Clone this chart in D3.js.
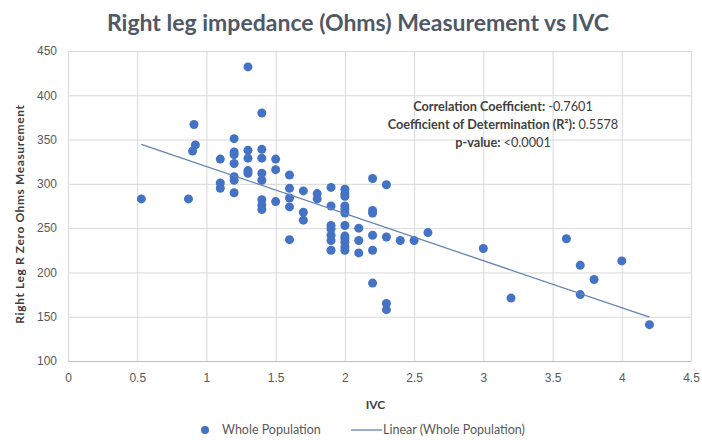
<!DOCTYPE html>
<html>
<head>
<meta charset="utf-8">
<script src="https://cdn.jsdelivr.net/npm/d3@7"></script>
<style>
  body { margin: 0; background: #fff; }
  svg { font-family: Lato, "Open Sans", sans-serif; }
</style>
</head>
<body>
<div id="chart"></div>
<script>
// IVC (x) and Right Leg R Zero Ohms (y)
const ivc = [
  0.53, 0.87, 0.91, 0.92, 0.9,
  1.1, 1.1, 1.1,
  1.2, 1.2, 1.2, 1.2, 1.2, 1.2, 1.2,
  1.3, 1.3, 1.3, 1.3, 1.3,
  1.4, 1.4, 1.4, 1.4, 1.4, 1.4, 1.4, 1.4,
  1.5, 1.5, 1.5,
  1.6, 1.6, 1.6, 1.6, 1.6,
  1.7, 1.7, 1.7,
  1.8, 1.8,
  1.9, 1.9, 1.9, 1.9, 1.9, 1.9, 1.9,
  2.0, 2.0, 2.0, 2.0, 2.0, 2.0, 2.0, 2.0, 2.0, 2.0, 2.0, 2.0,
  2.1, 2.1, 2.1,
  2.2, 2.2, 2.2, 2.2, 2.2, 2.2,
  2.3, 2.3, 2.3, 2.3,
  2.4, 2.5, 2.6, 3.0, 3.2, 3.6, 3.7, 3.7, 3.8, 4.0, 4.2
];
const ohms = [
  283, 283, 367, 344, 337,
  328, 301, 295,
  351, 336, 333, 323, 308, 304, 290,
  432, 338, 329, 315, 312,
  380, 339, 329, 312, 304, 282, 276, 271,
  328, 316, 280,
  310, 295, 284, 274, 237,
  292, 268, 259,
  289, 283,
  296, 275, 253, 249, 242, 236, 225,
  294, 289, 286, 275, 271, 267, 253, 241, 238, 234, 229, 225,
  250, 236, 222,
  306, 270, 267, 242, 225, 188,
  299, 240, 165, 158,
  236, 236, 245, 227, 171, 238, 208, 175, 192, 213, 141
];
const xTicks = [0, 0.5, 1, 1.5, 2, 2.5, 3, 3.5, 4, 4.5];
const yTicks = [100, 150, 200, 250, 300, 350, 400, 450];
const stats = [
  ["Correlation Coefficient: ", "-0.7601"],
  ["Coefficient of Determination (R\u00b2): ", "0.5578"],
  ["p-value: ", "<0.0001"]
];

const W = 702, H = 440;
const margin = { top: 51, right: 11, bottom: 79, left: 68 };
const width = W - margin.left - margin.right;
const height = H - margin.top - margin.bottom;

const svg = d3.select("#chart").append("svg")
  .attr("width", W)
  .attr("height", H);

const g = svg.append("g")
  .attr("transform", `translate(${margin.left},${margin.top})`);

const x = d3.scaleLinear().domain([0, 4.5]).range([0, width]);
const y = d3.scaleLinear().domain([100, 450]).range([height, 0]);

// gridlines
g.append("g")
  .call(d3.axisLeft(y).tickValues(yTicks).tickSize(-width).tickFormat(""))
  .call(a => a.select(".domain").remove())
  .selectAll("line").attr("stroke", "#d9d9d9");
g.append("g")
  .call(d3.axisBottom(x).tickValues(xTicks).tickSize(height).tickFormat(""))
  .call(a => a.select(".domain").remove())
  .selectAll("line").attr("stroke", "#d9d9d9");

// axes
const xAxis = g.append("g")
  .attr("transform", `translate(0,${height})`)
  .call(d3.axisBottom(x).tickValues(xTicks).tickSize(0).tickPadding(12).tickFormat(d3.format("")));
xAxis.select(".domain").attr("stroke", "#bfbfbf");
xAxis.selectAll("text").attr("fill", "#595959").style("font-size", "12px");

const yAxis = g.append("g")
  .call(d3.axisLeft(y).tickValues(yTicks).tickSize(0).tickPadding(11));
yAxis.select(".domain").remove();
yAxis.selectAll("text").attr("fill", "#595959").style("font-size", "12px");

// points
const pts = ivc.map((v, i) => ({ x: v, y: ohms[i] }));
g.selectAll("circle.pt")
  .data(pts)
  .enter()
  .append("circle")
  .attr("class", "pt")
  .attr("cx", d => x(d.x))
  .attr("cy", d => y(d.y))
  .attr("r", 4.5)
  .attr("fill", "#4472c4");

// linear trend (least squares over the points)
const mx = d3.mean(pts, d => d.x), my = d3.mean(pts, d => d.y);
const slope = d3.sum(pts, d => (d.x - mx) * (d.y - my)) / d3.sum(pts, d => (d.x - mx) ** 2);
const icpt = my - slope * mx;
const xr = d3.extent(ivc);
g.append("line")
  .attr("x1", x(xr[0])).attr("y1", y(icpt + slope * xr[0]))
  .attr("x2", x(xr[1])).attr("y2", y(icpt + slope * xr[1]))
  .attr("stroke", "#6283b3")
  .attr("stroke-width", 1.3);

// stats annotation
const ann = svg.append("text")
  .attr("x", 503)
  .attr("y", 111)
  .attr("text-anchor", "middle")
  .attr("fill", "#404040")
  .style("font-size", "12.7px");
stats.forEach((s, i) => {
  const t = ann.append("tspan").attr("x", 503).attr("dy", i === 0 ? 0 : 18);
  t.append("tspan").attr("font-weight", "bold").text(s[0]);
  t.append("tspan").text(s[1]);
});

// title
svg.append("text")
  .attr("x", 358)
  .attr("y", 31)
  .attr("text-anchor", "middle")
  .attr("font-weight", "bold")
  .attr("fill", "#4f5867")
  .style("font-size", "23px")
  .text("Right leg impedance (Ohms) Measurement  vs IVC");

// axis titles
svg.append("text")
  .attr("x", margin.left + width / 2 - 4)
  .attr("y", 409)
  .attr("text-anchor", "middle")
  .attr("font-weight", "bold")
  .attr("fill", "#404040")
  .style("font-size", "12px")
  .text("IVC");

svg.append("text")
  .attr("transform", `translate(24,214) rotate(-90)`)
  .attr("text-anchor", "middle")
  .attr("font-weight", "bold")
  .attr("fill", "#404040")
  .style("font-size", "12px")
  .style("letter-spacing", "0.6px")
  .text("Right Leg R Zero Ohms Measurement");

// legend
const lg = svg.append("g").attr("transform", "translate(0,430)");
lg.append("circle").attr("cx", 205).attr("cy", 0).attr("r", 4).attr("fill", "#4472c4");
lg.append("text").attr("x", 222).attr("y", 4).attr("fill", "#595959")
  .style("font-size", "12.5px").text("Whole Population");
lg.append("line").attr("x1", 351).attr("x2", 382).attr("y1", 0).attr("y2", 0)
  .attr("stroke", "#6283b3").attr("stroke-width", 1.3);
lg.append("text").attr("x", 383).attr("y", 4).attr("fill", "#595959")
  .style("font-size", "12.5px").text("Linear (Whole Population)");
</script>
</body>
</html>
